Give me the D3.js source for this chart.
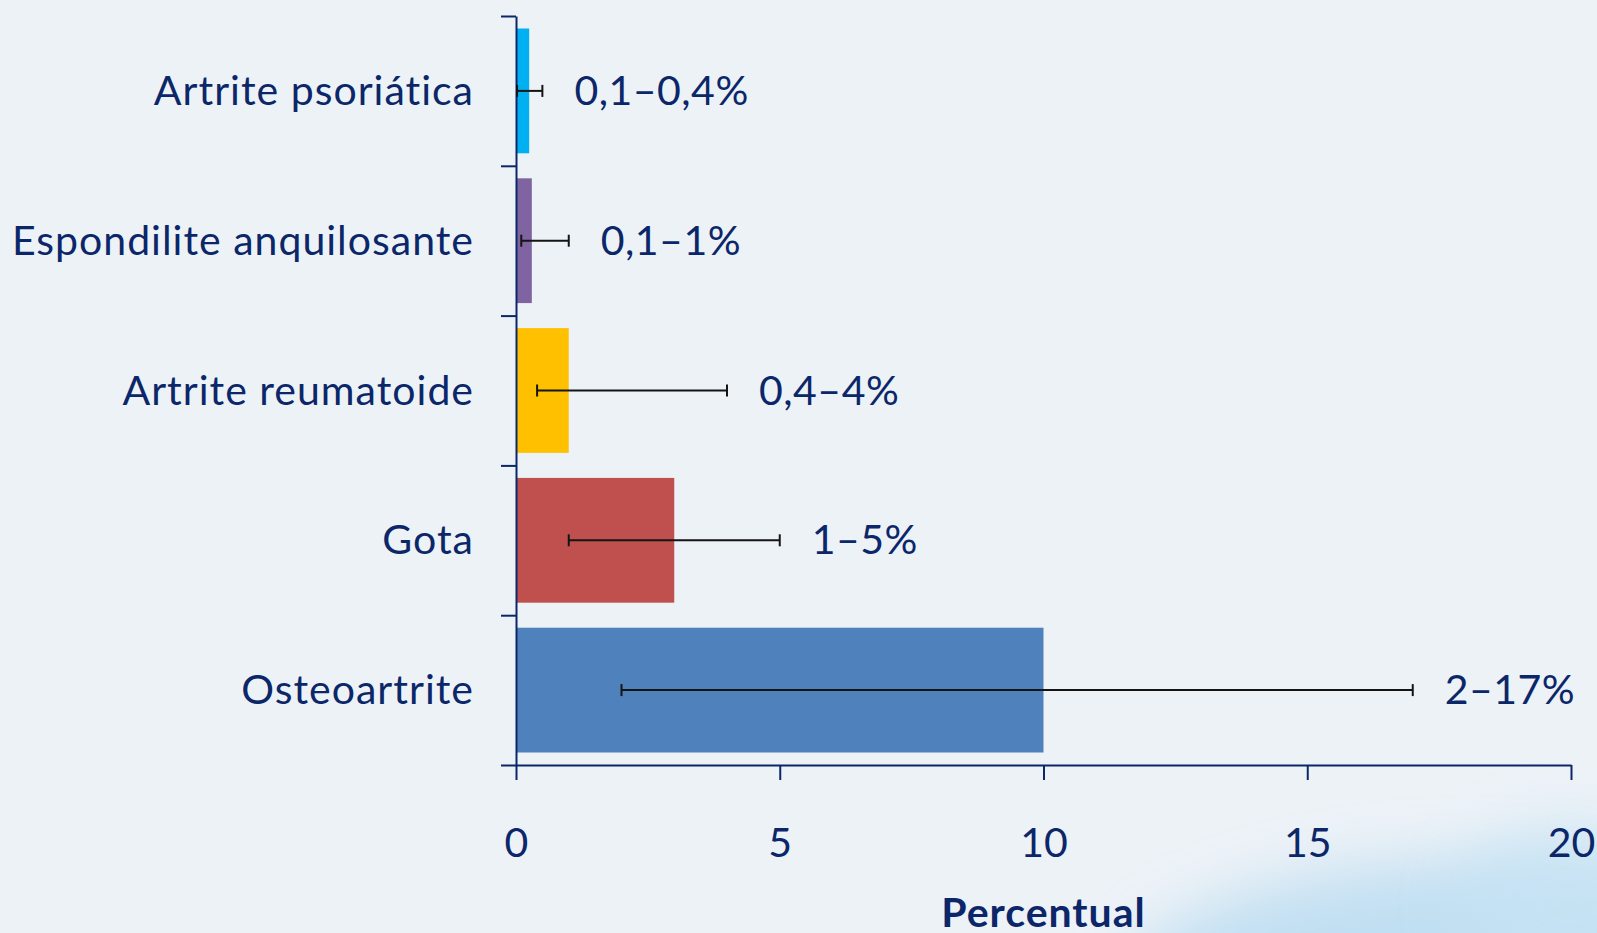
<!DOCTYPE html>
<html>
<head>
<meta charset="utf-8">
<script src="https://cdn.jsdelivr.net/npm/d3@7"></script>
<style>
  body { margin: 0; background: #edf2f7; }
  svg { display: block; }
</style>
</head>
<body>
<div class="chart"></div>
<script>
// data
var categories = ["Artrite psoriática", "Espondilite anquilosante", "Artrite reumatoide", "Gota", "Osteoartrite"];
var values = [0.25, 0.3, 1, 3, 10];
var rangeLow = [0.02, 0.1, 0.4, 1, 2];
var rangeHigh = [0.5, 1, 4, 5, 17];
var rangeLabels = ["0,1–0,4%", "0,1–1%", "0,4–4%", "1–5%", "2–17%"];
var barColors = ["#00b0f0", "#8064a2", "#ffc000", "#c0504d", "#4f81bd"];
var xTicks = [0, 5, 10, 15, 20];
var xTitle = "Percentual";

var width = 1597;
var height = 933;
var navy = "#0b2769";
var font = "Lato, 'Open Sans', sans-serif";

var svg = d3.select('.chart').append('svg').attr('width', width).attr('height', height);

// background + soft blue wash at the bottom right
var defs = svg.append("defs");
defs.append("filter").attr("id", "blur").attr("x", "-50%").attr("y", "-50%").attr("width", "200%").attr("height", "200%")
  .append("feGaussianBlur").attr("stdDeviation", 30);

svg.append("rect").attr("width", width).attr("height", height).attr("fill", "#edf2f7");
svg.append("ellipse").attr("cx", 1490).attr("cy", 995).attr("rx", 370).attr("ry", 135)
  .attr("fill", "#b9dcf1").attr("opacity", 0.85).attr("filter", "url(#blur)");
svg.append("ellipse").attr("cx", 1570).attr("cy", 905).attr("rx", 110).attr("ry", 80)
  .attr("fill", "#c6e3f4").attr("opacity", 0.7).attr("filter", "url(#blur)");

var x = d3.scaleLinear().domain([0, 20]).range([516, 1571]);

var y = d3.scaleBand().domain(categories).range([16, 765])
  .paddingInner(0.167).paddingOuter(0.0835);

// boundaries between categories, for the left axis ticks
var yEdges = d3.scaleLinear().domain([0, categories.length]).range([16, 765]);

// bars
svg.append("g").selectAll("rect")
  .data(categories)
  .enter().append("rect")
    .attr("x", x(0))
    .attr("y", function(d) { return y(d); })
    .attr("width", function(d, i) { return x(values[i]) - x(0); })
    .attr("height", y.bandwidth())
    .attr("fill", function(d, i) { return barColors[i]; });

// x axis
var xAxis = svg.append("g").attr("transform", "translate(0," + y.range()[1] + ")")
  .call(d3.axisBottom(x).tickValues(xTicks).tickSize(15).tickSizeOuter(0).tickPadding(48));
xAxis.select(".domain").attr("stroke", navy).attr("stroke-width", 2);
xAxis.selectAll(".tick line").attr("stroke", navy).attr("stroke-width", 2);
xAxis.selectAll(".tick text").attr("fill", navy).attr("font-family", font).attr("font-size", 41);

// y axis
var yAxis = svg.append("g").attr("transform", "translate(" + x(0) + ",0)")
  .call(d3.axisLeft(yEdges).ticks(categories.length).tickSize(15).tickSizeOuter(0).tickFormat(""));
yAxis.select(".domain").attr("stroke", navy).attr("stroke-width", 2);
yAxis.selectAll(".tick line").attr("stroke", navy).attr("stroke-width", 2);

// category labels
svg.append("g").selectAll("text")
  .data(categories)
  .enter().append("text")
    .attr("x", 474)
    .attr("y", function(d) { return y(d) + y.bandwidth() / 2 + 14; })
    .attr("text-anchor", "end")
    .attr("fill", navy)
    .attr("font-family", font)
    .attr("font-size", 41)
    .attr("letter-spacing", 1)
    .text(function(d) { return d; });

// error bars
var err = svg.append("g").selectAll("g")
  .data(categories)
  .enter().append("g")
    .attr("transform", function(d) { return "translate(0," + (y(d) + y.bandwidth() / 2) + ")"; });

err.append("line")
  .attr("x1", function(d, i) { return x(rangeLow[i]); })
  .attr("x2", function(d, i) { return x(rangeHigh[i]); })
  .attr("stroke", "#141414").attr("stroke-width", 2);

err.append("line")
  .attr("x1", function(d, i) { return x(rangeLow[i]); })
  .attr("x2", function(d, i) { return x(rangeLow[i]); })
  .attr("y1", -6).attr("y2", 6)
  .attr("stroke", "#141414").attr("stroke-width", 2);

err.append("line")
  .attr("x1", function(d, i) { return x(rangeHigh[i]); })
  .attr("x2", function(d, i) { return x(rangeHigh[i]); })
  .attr("y1", -6).attr("y2", 6)
  .attr("stroke", "#141414").attr("stroke-width", 2);

// range labels
err.append("text")
  .attr("x", function(d, i) { return x(rangeHigh[i]) + 32; })
  .attr("y", 14)
  .attr("fill", navy)
  .attr("font-family", font)
  .attr("font-size", 41)
  .attr("letter-spacing", 0.5)
  .text(function(d, i) { return rangeLabels[i]; });

// axis title
svg.append("text")
  .attr("x", (x.range()[0] + x.range()[1]) / 2)
  .attr("y", 927)
  .attr("text-anchor", "middle")
  .attr("fill", navy)
  .attr("font-family", font)
  .attr("font-weight", "bold")
  .attr("font-size", 41)
  .attr("letter-spacing", 1)
  .text(xTitle);
</script>
</body>
</html>
